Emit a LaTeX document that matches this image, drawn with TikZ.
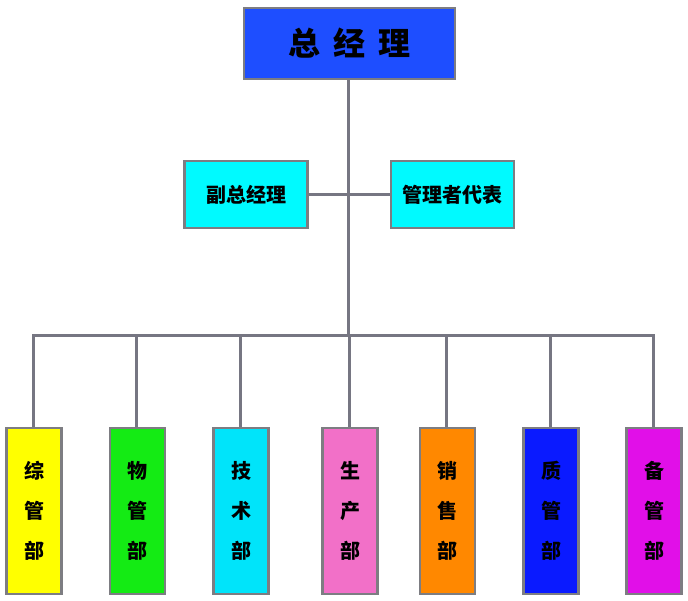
\documentclass[tikz,border=0pt]{standalone}
\usepackage{fontspec}
\newfontfamily\cjk{Noto Sans CJK SC}
\definecolor{linegray}{RGB}{118,118,130}
\definecolor{bordergray}{RGB}{125,125,130}
\definecolor{topblue}{RGB}{30,78,255}
\definecolor{depcyan}{RGB}{0,250,255}
\definecolor{cyellow}{RGB}{255,255,0}
\definecolor{cgreen}{RGB}{20,235,20}
\definecolor{ccyan}{RGB}{0,228,250}
\definecolor{cpink}{RGB}{242,112,200}
\definecolor{corange}{RGB}{255,136,0}
\definecolor{cblue}{RGB}{10,26,255}
\definecolor{cmagenta}{RGB}{225,15,232}
\begin{document}
\begin{tikzpicture}[x=1pt,y=-1pt,
  box/.style={draw=bordergray, line width=2.5pt, inner sep=0pt},
  topbox/.style={box, fill=topblue, minimum width=211pt, minimum height=71pt,
    font=\cjk\bfseries\fontsize{32}{36}\selectfont},
  depbox/.style={box, fill=depcyan, minimum width=123pt, minimum height=67pt,
    font=\cjk\bfseries\fontsize{20}{24}\selectfont},
  deptbox/.style={box, minimum width=55pt, minimum height=166pt, align=center,
    font=\cjk\bfseries\fontsize{20}{40}\selectfont},
  link/.style={draw=linegray, line width=3pt}]
\useasboundingbox (0,0) rectangle (688,600);
\fill[white] (0,0) rectangle (688,600);
\node[topbox] (top) at (349.5,43.5) {总\hspace{13pt}经\hspace{13pt}理};
\node[depbox] (d1) at (246,194.5) {副总经理};
\node[depbox] (d2) at (452.5,194.5) {管理者代表};
\coordinate (bar) at (348,335);
\node[deptbox, fill=cyellow] (b1) at (34,511) {综\\管\\部};
\node[deptbox, fill=cgreen] (b2) at (137.5,511) {物\\管\\部};
\node[deptbox, fill=ccyan] (b3) at (241,511) {技\\术\\部};
\node[deptbox, fill=cpink] (b4) at (350,511) {生\\产\\部};
\node[deptbox, fill=corange] (b5) at (447.5,511) {销\\售\\部};
\node[deptbox, fill=cblue] (b6) at (551,511) {质\\管\\部};
\node[deptbox, fill=cmagenta] (b7) at (654,511) {备\\管\\部};
\path[link] (top.south -| bar) -- (bar);
\path[link] (d1) -- (d2);
\path[link] ([xshift=-1pt]b1.north) |- (bar) -| ([xshift=-1pt]b7.north);
\foreach \b in {b2,b3,b4,b5,b6}
  \path[link] ([xshift=-1pt]\b.north) -- ([xshift=-1pt]\b.north |- bar);
\end{tikzpicture}
\end{document}
